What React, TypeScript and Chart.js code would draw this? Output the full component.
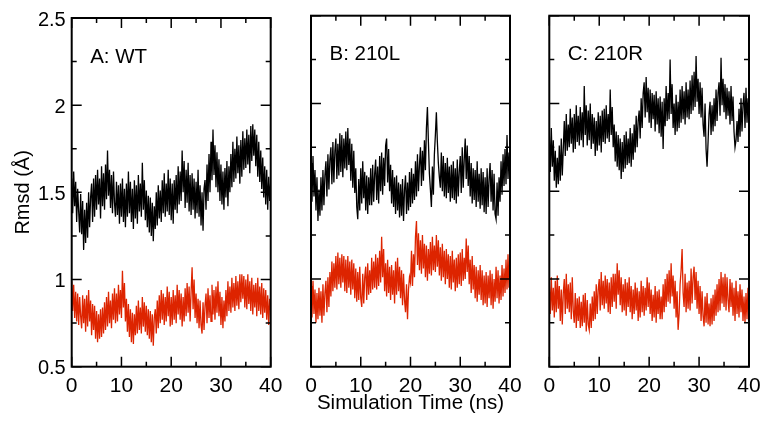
import React, { useEffect, useRef } from 'react';
import { Chart, registerables } from 'chart.js';

Chart.register(...registerables);
Chart.defaults.font.family = '"Liberation Sans", Arial, Helvetica, sans-serif';
Chart.defaults.color = '#000';

// Simulation time (ns), sampled every 0.2 ns
const TIME: number[] = Array.from({ length: 201 }, (_, i) => i / 5);

const X_MAJOR = [0, 10, 20, 30, 40];
const X_MINOR = [5, 15, 25, 35];
const Y_MAJOR = [0.5, 1, 1.5, 2, 2.5];
const Y_MINOR = [0.75, 1.25, 1.75, 2.25];

const PANEL_LABELS = ['A: WT', 'B: 210L', 'C: 210R'];
const Y_TITLE = 'Rmsd (Å)';
const X_TITLE = 'Simulation Time (ns)';

const A_BLACK = [
  1.58, 1.38, 1.62, 1.42, 1.56,
  1.33, 1.52, 1.39, 1.27, 1.49,
  1.26, 1.45, 1.17, 1.40, 1.21,
  1.44, 1.24, 1.50, 1.30, 1.47,
  1.55, 1.33, 1.58, 1.36, 1.60,
  1.40, 1.63, 1.43, 1.58, 1.35,
  1.65, 1.42, 1.61, 1.40, 1.66,
  1.46, 1.74, 1.48, 1.63, 1.41,
  1.60, 1.38, 1.62, 1.44, 1.36,
  1.56, 1.37, 1.54, 1.32, 1.55,
  1.36, 1.58, 1.33, 1.52, 1.30,
  1.55, 1.36, 1.62, 1.38, 1.56,
  1.33, 1.52, 1.29, 1.57, 1.35,
  1.54, 1.32, 1.60, 1.39, 1.55,
  1.36, 1.67, 1.40, 1.57, 1.34,
  1.51, 1.30, 1.48, 1.27, 1.47,
  1.25, 1.44, 1.22, 1.42, 1.29,
  1.50, 1.31, 1.54, 1.35, 1.51,
  1.33, 1.57, 1.38, 1.61, 1.36,
  1.55, 1.39, 1.63, 1.37, 1.58,
  1.34, 1.55, 1.32, 1.57, 1.40,
  1.60, 1.38, 1.65, 1.43, 1.62,
  1.45, 1.74, 1.50, 1.68, 1.41,
  1.63, 1.44, 1.67, 1.39, 1.60,
  1.37, 1.61, 1.40, 1.58, 1.35,
  1.56, 1.38, 1.63, 1.36, 1.54,
  1.31, 1.50, 1.28, 1.52, 1.57,
  1.40, 1.66, 1.45, 1.72, 1.50,
  1.79, 1.57, 1.86, 1.60, 1.77,
  1.53, 1.73, 1.50, 1.69, 1.45,
  1.66, 1.43, 1.62, 1.40, 1.64,
  1.47, 1.68, 1.42, 1.65, 1.50,
  1.72, 1.53, 1.79, 1.56, 1.75,
  1.58, 1.82, 1.61, 1.77, 1.55,
  1.80, 1.59, 1.85, 1.63, 1.81,
  1.64, 1.86, 1.66, 1.83, 1.61,
  1.88, 1.68, 1.89, 1.71, 1.86,
  1.65, 1.83, 1.59, 1.79, 1.56,
  1.74, 1.52, 1.70, 1.47, 1.65,
  1.43, 1.63, 1.40, 1.59, 1.45,
  1.56,
];

const A_RED = [
  0.99, 0.82, 0.97, 0.78, 0.93,
  0.76, 0.92, 0.74, 0.90, 0.79,
  0.72, 0.91, 0.75, 0.89, 0.70,
  0.91, 0.73, 0.94, 0.76, 0.88,
  0.68, 0.86, 0.71, 0.85, 0.66,
  0.82, 0.64, 0.80, 0.66, 0.83,
  0.67, 0.84, 0.69, 0.87, 0.71,
  0.90, 0.73, 0.93, 0.75, 0.88,
  0.72, 0.92, 0.77, 0.95, 0.75,
  0.92, 0.76, 0.97, 0.80, 0.94,
  0.78, 1.05, 0.84, 0.98, 0.76,
  0.89, 0.70, 0.86, 0.67, 0.83,
  0.64, 0.81, 0.63, 0.80, 0.68,
  0.85, 0.69, 0.88, 0.71, 0.84,
  0.69, 0.90, 0.73, 0.87, 0.70,
  0.85, 0.68, 0.83, 0.66, 0.82,
  0.64, 0.80, 0.62, 0.78, 0.83,
  0.69, 0.88, 0.72, 0.91, 0.75,
  0.94, 0.77, 0.92, 0.74, 0.90,
  0.76, 0.96, 0.79, 0.93, 0.73,
  0.90, 0.74, 0.94, 0.77, 0.91,
  0.75, 0.97, 0.80, 0.94, 0.77,
  0.92, 0.73, 0.90, 0.76, 0.95,
  0.79, 0.98, 0.81, 0.96, 0.76,
  0.93, 1.07, 0.83, 1.00, 0.78,
  0.92, 0.75, 0.89, 0.72, 0.88,
  0.74, 0.69, 0.87, 0.71, 0.85,
  0.92, 0.75, 0.95, 0.78, 0.91,
  0.76, 0.97, 0.80, 0.94, 0.77,
  0.96, 0.81, 0.99, 0.79, 0.93,
  0.74, 0.90, 0.72, 0.88, 0.76,
  0.94, 0.79, 0.99, 0.82, 0.96,
  0.81, 1.01, 0.84, 0.98, 0.82,
  1.02, 0.85, 0.99, 0.83, 1.03,
  0.87, 1.03, 0.89, 1.02, 0.84,
  1.00, 0.83, 1.03, 0.86, 0.99,
  0.82, 1.01, 0.80, 0.97, 0.84,
  0.98, 0.79, 1.01, 0.82, 0.96,
  0.80, 0.98, 0.78, 0.95, 0.81,
  0.94, 0.77, 0.91, 0.74, 0.89,
  0.82,
];

const B_BLACK = [
  1.66, 1.44, 1.70, 1.47, 1.62,
  1.39, 1.58, 1.33, 1.51, 1.36,
  1.58, 1.39, 1.62, 1.42, 1.59,
  1.67, 1.47, 1.71, 1.51, 1.68,
  1.75, 1.54, 1.78, 1.55, 1.73,
  1.80, 1.57, 1.77, 1.59, 1.83,
  1.61, 1.82, 1.58, 1.80, 1.63,
  1.84, 1.62, 1.86, 1.65, 1.80,
  1.56, 1.77, 1.52, 1.73, 1.49,
  1.63, 1.41, 1.34, 1.57, 1.39,
  1.63, 1.43, 1.67, 1.46, 1.61,
  1.39, 1.59, 1.37, 1.58, 1.42,
  1.63, 1.42, 1.65, 1.44, 1.60,
  1.68, 1.45, 1.64, 1.43, 1.70,
  1.50, 1.72, 1.48, 1.69, 1.53,
  1.76, 1.80, 1.55, 1.74, 1.50,
  1.65, 1.43, 1.62, 1.41, 1.58,
  1.37, 1.59, 1.39, 1.55, 1.35,
  1.54, 1.36, 1.57, 1.33, 1.51,
  1.59, 1.37, 1.55, 1.39, 1.61,
  1.41, 1.63, 1.43, 1.60, 1.45,
  1.67, 1.47, 1.71, 1.50, 1.65,
  1.75, 1.53, 1.73, 1.56, 1.79,
  1.62, 1.86, 1.98, 1.78, 1.60,
  1.51, 1.41, 1.64, 1.48, 1.71,
  1.82, 1.95, 1.78, 1.66, 1.58,
  1.52, 1.72, 1.50, 1.70, 1.47,
  1.66, 1.46, 1.69, 1.49, 1.64,
  1.44, 1.65, 1.46, 1.67, 1.45,
  1.63, 1.43, 1.68, 1.47, 1.61,
  1.70, 1.49, 1.75, 1.52, 1.68,
  1.80, 1.57, 1.76, 1.53, 1.70,
  1.47, 1.66, 1.43, 1.63, 1.45,
  1.62, 1.41, 1.67, 1.44, 1.60,
  1.40, 1.63, 1.42, 1.61, 1.38,
  1.58, 1.37, 1.63, 1.41, 1.57,
  1.66, 1.44, 1.62, 1.39, 1.60,
  1.37, 1.34, 1.55, 1.36, 1.58,
  1.44, 1.67, 1.48, 1.71, 1.53,
  1.74, 1.54, 1.82, 1.57, 1.72,
  1.68,
];

const B_RED = [
  0.96, 0.78, 0.99, 0.80, 0.94,
  0.75, 0.92, 0.77, 0.95, 0.79,
  0.93, 0.75, 0.97, 0.79, 0.92,
  0.99, 0.81, 1.01, 0.84, 1.04,
  0.90, 1.10, 0.93, 1.09, 0.95,
  1.13, 0.94, 1.15, 0.97, 1.12,
  0.95, 1.14, 0.98, 1.13, 0.93,
  1.11, 0.92, 1.13, 0.95, 1.10,
  0.91, 1.11, 0.94, 1.09, 0.89,
  1.06, 0.87, 1.04, 0.88, 1.07,
  0.89, 0.84, 1.03, 0.86, 1.01,
  1.07, 0.88, 1.09, 0.91, 1.05,
  0.92, 1.12, 0.94, 1.10, 0.95,
  1.14, 0.94, 1.12, 0.96, 1.16,
  0.98, 1.24, 1.01, 1.17, 0.93,
  1.09, 0.90, 1.11, 0.92, 1.07,
  0.88, 1.08, 0.91, 1.05, 0.86,
  1.10, 0.91, 1.12, 0.93, 1.07,
  0.89, 1.05, 0.85, 1.03, 0.88,
  0.81, 0.97, 0.77, 0.94, 1.01,
  0.98, 1.16, 0.96, 1.14, 1.01,
  1.24, 1.33, 1.08, 1.26, 1.05,
  1.22, 1.03, 1.25, 1.06, 1.20,
  1.01, 1.19, 0.99, 1.17, 1.03,
  1.21, 1.02, 1.24, 1.05, 1.19,
  1.04, 1.25, 1.07, 1.22, 1.02,
  1.18, 0.99, 1.20, 1.01, 1.16,
  0.97, 1.17, 1.00, 1.14, 0.95,
  1.13, 0.94, 1.16, 0.98, 1.11,
  0.93, 1.12, 0.95, 1.14, 0.97,
  1.15, 0.96, 1.17, 0.99, 1.12,
  1.00, 1.23, 1.04, 1.19, 0.97,
  1.11, 0.92, 1.13, 0.94, 1.08,
  0.89, 1.07, 0.87, 1.05, 0.91,
  1.08, 0.88, 1.05, 0.85, 1.02,
  0.86, 1.04, 0.84, 1.02, 0.89,
  1.05, 0.85, 1.03, 0.83, 1.00,
  0.87, 1.07, 0.89, 1.05, 0.86,
  1.02, 0.88, 1.08, 0.90, 1.06,
  0.92, 1.11, 0.94, 1.14, 0.95,
  1.10,
];

const C_BLACK = [
  1.83, 1.61, 1.86, 1.64, 1.79,
  1.56, 1.73, 1.52, 1.69, 1.54,
  1.76, 1.56, 1.80, 1.59, 1.74,
  1.90, 1.70, 1.94, 1.73, 1.88,
  1.75, 1.97, 1.77, 1.92, 1.72,
  1.94, 1.74, 1.99, 1.78, 1.93,
  1.76, 1.98, 1.79, 1.95, 1.75,
  2.10, 1.82, 1.99, 1.76, 1.96,
  1.79, 2.00, 1.74, 1.94, 1.77,
  1.92, 1.70, 1.90, 1.73, 1.95,
  1.76, 1.93, 1.72, 1.96, 1.78,
  1.97, 1.77, 1.99, 1.80, 1.94,
  1.78, 2.08, 1.82, 1.98, 1.75,
  1.88, 1.67, 1.84, 1.64, 1.82,
  1.62, 1.80, 1.57, 1.78, 1.61,
  1.82, 1.63, 1.84, 1.65, 1.80,
  1.66, 1.86, 1.64, 1.83, 1.68,
  1.88, 1.72, 1.93, 1.75, 1.90,
  1.96, 1.80, 2.03, 1.86, 2.06,
  2.12, 1.92, 2.15, 1.95, 2.09,
  1.89, 2.08, 1.86, 2.06, 1.91,
  2.05, 1.84, 2.07, 1.88, 2.03,
  1.83, 2.04, 1.81, 2.01, 1.74,
  2.03, 1.87, 2.10, 1.90, 2.06,
  1.91, 2.25, 1.94, 2.11, 1.86,
  2.00, 1.82, 2.05, 1.84, 2.01,
  1.86, 2.08, 1.89, 2.10, 1.91,
  2.07, 1.88, 2.12, 1.92, 2.08,
  1.91, 2.13, 1.94, 2.16, 1.96,
  2.18, 1.98, 2.27, 2.01, 2.14,
  1.94, 2.12, 1.92, 2.09, 1.88,
  1.81, 2.00, 1.74, 1.64, 1.78,
  1.94, 2.01, 1.82, 1.99, 1.84,
  2.03, 1.87, 2.08, 1.90, 2.06,
  2.12, 1.93, 2.26, 1.99, 2.14,
  1.95, 2.11, 1.91, 2.09, 1.93,
  2.07, 1.88, 2.10, 1.90, 2.04,
  1.84, 1.75, 1.79, 1.90, 1.78,
  1.97, 1.81, 2.03, 1.84, 1.99,
  2.06, 1.86, 2.09, 1.89, 2.03,
  1.94,
];

const C_RED = [
  0.97, 0.80, 1.01, 0.82, 0.95,
  0.78, 0.99, 0.81, 1.02, 0.83,
  0.96, 0.76, 0.94, 0.74, 0.92,
  1.00, 0.80, 1.03, 0.83, 0.97,
  0.81, 0.98, 0.77, 1.01, 0.82,
  0.75, 0.92, 0.72, 0.89, 0.76,
  0.90, 0.72, 0.87, 0.73, 0.91,
  0.75, 0.92, 0.70, 0.88, 0.74,
  0.71, 0.86, 0.72, 0.90, 0.76,
  0.93, 0.77, 0.97, 0.80, 0.94,
  1.00, 0.82, 1.04, 0.85, 0.99,
  0.83, 1.02, 0.86, 1.00, 0.81,
  0.98, 0.80, 1.01, 0.84, 1.03,
  0.87, 1.03, 0.83, 1.09, 0.91,
  1.05, 0.85, 1.01, 0.81, 0.97,
  0.82, 1.00, 0.79, 0.98, 0.84,
  1.01, 0.81, 0.96, 0.77, 0.94,
  0.80, 0.98, 0.82, 0.95, 0.76,
  0.93, 0.78, 0.99, 0.81, 0.96,
  0.79, 0.95, 0.82, 1.01, 0.84,
  0.98, 0.80, 0.94, 0.76, 0.91,
  0.78, 0.96, 0.75, 0.93, 0.80,
  0.94, 0.77, 0.90, 0.77, 0.97,
  0.81, 1.00, 0.84, 1.03, 0.87,
  1.05, 0.86, 1.09, 0.90, 1.02,
  0.83, 0.99, 0.78, 0.93, 0.71,
  0.80, 0.97, 1.05, 1.17, 0.92,
  0.84, 1.03, 0.81, 0.98, 0.83,
  0.99, 0.82, 1.06, 0.86, 1.01,
  1.07, 0.88, 1.04, 0.83, 0.99,
  0.80, 0.96, 0.76, 0.93, 0.79,
  0.73, 0.90, 0.75, 0.92, 0.74,
  0.86, 0.73, 0.89, 0.74, 0.91,
  0.76, 0.94, 0.79, 0.97, 0.81,
  1.00, 0.82, 1.04, 0.86, 1.01,
  0.84, 1.03, 0.82, 1.01, 0.88,
  0.81, 1.00, 0.84, 0.98, 0.79,
  0.95, 0.76, 0.99, 0.80, 0.93,
  0.78, 0.97, 0.81, 0.94, 0.76,
  0.90, 0.75, 0.92, 0.77, 0.95,
  0.86,
];

const BLACK_SERIES = [A_BLACK, B_BLACK, C_BLACK];
const RED_SERIES = [A_RED, B_RED, C_RED];

const BLACK = '#000000';
const RED = '#dd2400';

type PanelProps = {
  idx: number;
  left: number;
  width: number;
  padLeft: number;
  padRight: number;
  yWidth: number;
};

const HEIGHT = 422;
const PLOT_TOP = 15.7;
const PLOT_BOTTOM = 366.7;

function Panel({ idx, left, width, padLeft, padRight, yWidth }: PanelProps) {
  const ref = useRef<HTMLCanvasElement | null>(null);

  useEffect(() => {
    const canvas = ref.current;
    if (!canvas) return;
    const showY = idx === 0;
    const showXTitle = idx === 1;
    const label = PANEL_LABELS[idx];

    const frameTicks = {
      id: 'frameTicks',
      afterDatasetsDraw(chart: any) {
        const { ctx, chartArea: a } = chart;
        const xs = chart.scales.x;
        const ys = chart.scales.y;
        ctx.save();
        ctx.strokeStyle = '#000';
        ctx.lineWidth = 1.5;
        ctx.beginPath();
        const xt = (v: number, len: number) => {
          const p = xs.getPixelForValue(v);
          ctx.moveTo(p, a.bottom);
          ctx.lineTo(p, a.bottom - len);
          ctx.moveTo(p, a.top);
          ctx.lineTo(p, a.top + len);
        };
        const yt = (v: number, len: number) => {
          const p = ys.getPixelForValue(v);
          ctx.moveTo(a.left, p);
          ctx.lineTo(a.left + len, p);
          ctx.moveTo(a.right, p);
          ctx.lineTo(a.right - len, p);
        };
        X_MAJOR.forEach((v) => xt(v, 10));
        X_MINOR.forEach((v) => xt(v, 5));
        Y_MAJOR.forEach((v) => yt(v, 10));
        Y_MINOR.forEach((v) => yt(v, 5));
        ctx.stroke();
        ctx.lineWidth = 2;
        ctx.strokeRect(a.left, a.top, a.right - a.left, a.bottom - a.top);
        ctx.fillStyle = '#000';
        ctx.font = '20.5px "Liberation Sans", Arial, Helvetica, sans-serif';
        ctx.textAlign = 'left';
        ctx.textBaseline = 'alphabetic';
        ctx.fillText(label, a.left + 18.5, a.top + 44.5);
        ctx.restore();
      },
    };

    const toPoints = (vals: number[]) => vals.map((v, i) => ({ x: TIME[i], y: v }));

    const chart = new Chart(canvas, {
      type: 'line',
      data: {
        datasets: [
          {
            label: 'black',
            data: toPoints(BLACK_SERIES[idx]),
            borderColor: BLACK,
            borderWidth: 1.3,
            pointRadius: 0,
            tension: 0,
            fill: false,
          },
          {
            label: 'red',
            data: toPoints(RED_SERIES[idx]),
            borderColor: RED,
            borderWidth: 1.3,
            pointRadius: 0,
            tension: 0,
            fill: false,
          },
        ],
      },
      options: {
        animation: false,
        responsive: false,
        devicePixelRatio: 1,
        events: [],
        layout: { padding: { left: padLeft, right: padRight, top: PLOT_TOP, bottom: 0 } },
        plugins: {
          legend: { display: false },
          tooltip: { enabled: false },
          title: { display: false },
        },
        scales: {
          x: {
            type: 'linear',
            min: 0,
            max: 40,
            grid: { display: false, drawTicks: false },
            border: { display: false },
            ticks: {
              stepSize: 10,
              autoSkip: false,
              maxRotation: 0,
              padding: 7,
              font: { size: 21 },
              color: '#000',
              callback: (v: any) => String(v),
            },
            title: {
              display: showXTitle,
              text: X_TITLE,
              font: { size: 20.5 },
              color: '#000',
              padding: { top: 0, bottom: 6 },
            },
            afterFit: (s: any) => {
              s.height = HEIGHT - PLOT_BOTTOM;
            },
          },
          y: {
            type: 'linear',
            display: showY,
            min: 0.5,
            max: 2.5,
            grid: { display: false, drawTicks: false },
            border: { display: false },
            ticks: {
              stepSize: 0.5,
              padding: 6,
              labelOffset: 2,
              font: { size: 20 },
              color: '#000',
              callback: (v: any) => String(v),
            },
            title: {
              display: showY,
              text: Y_TITLE,
              font: { size: 20 },
              color: '#000',
              padding: { top: 11, bottom: 0 },
            },
            afterFit: (s: any) => {
              s.width = yWidth;
            },
          },
        },
      },
      plugins: [frameTicks],
    });
    return () => chart.destroy();
  }, [idx, padLeft, padRight, yWidth]);

  return (
    <canvas
      ref={ref}
      width={width}
      height={HEIGHT}
      style={{ position: 'absolute', left, top: 0, width, height: HEIGHT }}
    />
  );
}

export default function App() {
  return (
    <div style={{ position: 'fixed', left: 0, top: 0, width: 769, height: HEIGHT, background: '#fff' }}>
      <Panel idx={0} left={0} width={290} padLeft={0} padRight={19.3} yWidth={71.7} />
      <Panel idx={1} left={290} width={240} padLeft={21} padRight={20} yWidth={0} />
      <Panel idx={2} left={530} width={239} padLeft={19.3} padRight={20} yWidth={0} />
    </div>
  );
}
